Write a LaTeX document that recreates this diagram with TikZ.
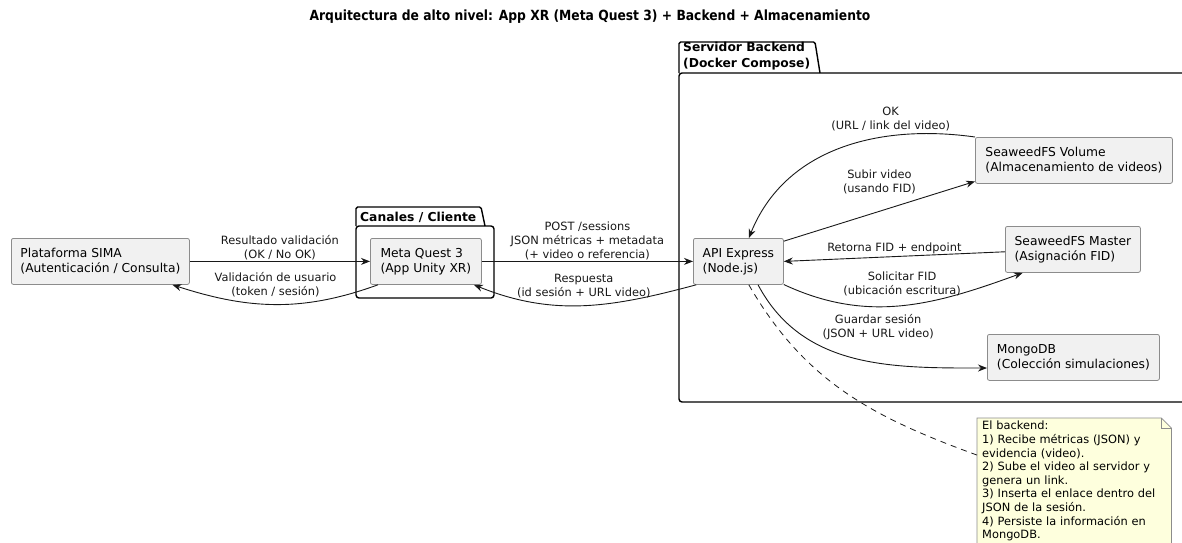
\documentclass[tikz,border=0pt]{standalone}
\usepackage{fontspec}
\setmainfont{DejaVu Sans}
\newfontfamily\titlefamily{DejaVu Sans}[FakeStretch=0.88]
\usetikzlibrary{arrows.meta,calc,positioning}

\definecolor{boxfill}{HTML}{F1F1F1}
\definecolor{boxline}{HTML}{8C8C8C}
\definecolor{notefill}{HTML}{FEFFDD}
\definecolor{wire}{HTML}{181818}

\newcommand\boxfont{\fontsize{12.3}{15}\selectfont}
\newcommand\lblfont{\fontsize{11.4}{14}\selectfont}
\newcommand\notefont{\fontsize{11.4}{13.6}\selectfont}
\newcommand\pkgfont{\bfseries\fontsize{12.3}{15.5}\selectfont}
\newcommand\titlefont{\titlefamily\bfseries\fontsize{14}{16}\selectfont}

\tikzset{
  comp/.style={draw=boxline, fill=boxfill, rounded corners=2pt, line width=0.8pt,
    inner xsep=8pt, inner ysep=0pt, minimum height=46pt, align=left,
    anchor=north west, font=\boxfont},
  lbl/.style={font=\lblfont, align=center, inner sep=1pt},
  arr/.style={wire, line width=0.9pt, -{Stealth[length=9pt,width=7pt]}},
  pkg/.style={line width=1.4pt, black},
}

\begin{document}
\begin{tikzpicture}[x=1pt,y=-1pt]
\clip (0,0) rectangle (1182,542);

\node[font=\titlefont] (Title) at (590,17)
  {Arquitectura de alto nivel: App XR (Meta Quest 3) + Backend + Almacenamiento};

% packages
\draw[pkg, rounded corners=1.5pt] (356,226) -- (356,207) -- (481,207) -- (485,226);
\draw[pkg, rounded corners=3pt] (356,226) rectangle (494,298);
\node[font=\pkgfont, anchor=west, inner sep=0pt] (ClientTab) at (360,217) {Canales / Cliente};

\draw[pkg, rounded corners=1.5pt] (679,73) -- (679,42) -- (815,42) -- (820,73);
\draw[pkg, rounded corners=3pt] (679,73) rectangle (1200,402);
\node[font=\pkgfont, align=left, anchor=north west, inner sep=0pt] (ServerTab) at (683,42)
  {Servidor Backend\\(Docker Compose)};

% components
\node[comp, minimum width=178pt] (Sima) at (11,238) {Plataforma SIMA\\(Autenticación / Consulta)};
\node[comp, minimum width=111pt] (Quest) at (370,238) {Meta Quest 3\\(App Unity XR)};
\node[comp, minimum width=90pt] (Api) at (693,238) {API Express\\(Node.js)};
\node[comp, minimum width=197pt] (Volume) at (975,137) {SeaweedFS Volume\\(Almacenamiento de videos)};
\node[comp, minimum width=135pt] (Master) at (1005,226) {SeaweedFS Master\\(Asignación FID)};
\node[comp, minimum width=172pt] (Mongo) at (987,334) {MongoDB\\(Colección simulaciones)};

% note
\node[fill=notefill, anchor=north west, text width=184pt, inner xsep=5pt, inner ysep=3pt,
  align=left, font=\notefont] (Note) at (977,418)
  {El backend:\\1) Recibe métricas (JSON) y\\evidencia (video).\\2) Sube el video al servidor y\\genera un link.\\3) Inserta el enlace dentro del\\JSON de la sesión.\\4) Persiste la información en\\MongoDB.};
\fill[white] (Note.north east) -- ($(Note.north east)+(-10,0)$) -- ($(Note.north east)+(0,10)$) -- cycle;
\draw[boxline, line width=0.8pt] (Note.north west) -- ($(Note.north east)+(-10,0)$)
  -- ($(Note.north east)+(0,10)$) -- (Note.south east) -- (Note.south west) -- cycle;
\draw[boxline, line width=0.8pt] ($(Note.north east)+(-10,0)$) -- ($(Note.north east)+(-10,10)$)
  -- ($(Note.north east)+(0,10)$);

% connectors
\draw[arr] (Sima) -- node[lbl, above] {Resultado validación\\(OK / No OK)} (Quest);
\draw[arr] (Quest.206) to[out=200,in=-18]
  node[lbl, above=6pt] {Validación de usuario\\(token / sesión)} (Sima.-18);
\draw[arr] (Quest) -- node[lbl, above] {POST /sessions\\JSON métricas + metadata\\(+ video o referencia)} (Api);
\draw[arr] (Api.209) to[out=195,in=-22]
  node[lbl, above=6pt] {Respuesta\\(id sesión + URL video)} (Quest.-26);
\draw[arr] (Volume.north west) to[out=172,in=68]
  node[lbl, pos=0.3, above=3pt] {OK\\(URL / link del video)} (Api.66);
\draw[arr] (Api.24) -- node[lbl, above=16pt] {Subir video\\(usando FID)} (Volume.192);
\draw[arr] (Master.182) -- node[lbl, above=1pt] {Retorna FID + endpoint} (Api.east);
\draw[arr] (Api.-27) to[out=-25,in=200]
  node[lbl, above=8pt] {Solicitar FID\\(ubicación escritura)} (Master.205);
\draw[arr] (Api.-50) to[out=-62,in=180]
  node[lbl, pos=0.6, above=22pt] {Guardar sesión\\(JSON + URL video)} (Mongo.187);
\draw[wire, dash pattern=on 6pt off 5pt, line width=0.8pt] (Api.-66) to[out=-60,in=160] (Note.165);
\end{tikzpicture}
\end{document}
